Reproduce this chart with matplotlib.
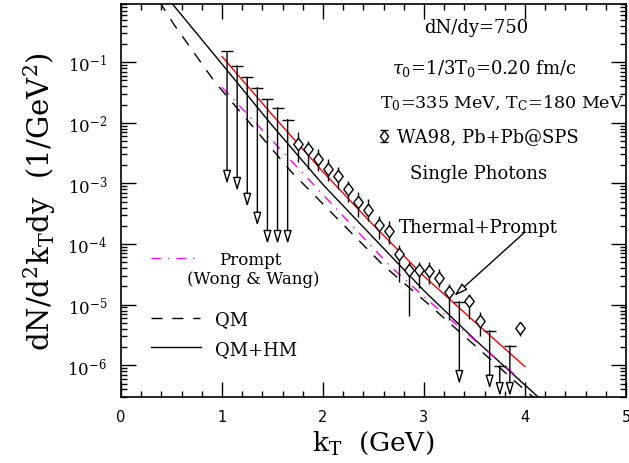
import numpy as np
import matplotlib
matplotlib.use("Agg")
import matplotlib.pyplot as plt

plt.rcParams['font.family'] = ['DejaVu Serif']
plt.rcParams['mathtext.fontset'] = 'dejavuserif'

# WA98 single photon data (diamonds)
kt_data = [1.75, 1.85, 1.95, 2.05, 2.15, 2.25, 2.35, 2.45, 2.55, 2.65,
           2.75, 2.85, 2.95, 3.05, 3.15, 3.25, 3.45, 3.55, 3.95]
y_data = [4.49e-3, 3.71e-3, 2.54e-3, 1.74e-3, 1.32e-3, 8.1e-4, 4.9e-4, 3.7e-4, 2.07e-4, 1.66e-4,
          6.9e-5, 3.8e-5, 3.8e-5, 3.6e-5, 2.8e-5, 1.6e-5, 1.16e-5, 5.4e-6, 4.1e-6]
y_low = [2.26e-3, 1.73e-3, 1.61e-3, 1.10e-3, 8.1e-4, 4.95e-4, 2.80e-4, 2.40e-4, 1.21e-4, 1.00e-4,
         2.37e-5, 6.5e-6, 1.88e-5, 2.19e-5, 1.96e-5, 5.5e-6, 5.7e-6, 3.04e-6, 3.04e-6]
y_high = [7.08e-3, 5.02e-3, 3.71e-3, 2.54e-3, 1.87e-3, 1.10e-3, 7.25e-4, 5.55e-4, 2.91e-4, 2.40e-4,
          9.66e-5, 5.07e-5, 5.07e-5, 5.07e-5, 3.88e-5, 2.19e-5, 1.50e-5, 7.6e-6, 4.8e-6]

# upper limits
kt_ul = [1.05, 1.15, 1.25, 1.35, 1.45, 1.55, 1.65, 3.35, 3.65, 3.75, 3.85]
ul_top = [0.150, 8.7e-2, 5.6e-2, 3.8e-2, 2.45e-2, 1.78e-2, 1.13e-2, 1.12e-5, 3.7e-6, 9.8e-7, 2.1e-6]
ul_tip = [9.8e-4, 7.5e-4, 4.1e-4, 2.0e-4, 1.0e-4, 1.0e-4, 1.0e-4, 4.9e-7, 4.1e-7, 3.1e-7, 3.1e-7]

# model curves
kt_tp = [1.0, 1.5, 2.0, 2.5, 3.0, 3.5, 4.0]
y_tp = [0.124, 1.34e-2, 1.55e-3, 2.04e-4, 2.95e-5, 5.25e-6, 9.5e-7]

kt_qmhm = [0.45, 1.0, 1.5, 2.0, 2.5, 3.0, 3.5, 4.15]
y_qmhm = [1.2, 9.3e-2, 8.9e-3, 9.55e-4, 1.27e-4, 1.70e-5, 2.69e-6, 2.8e-7]

kt_qm = [0.38, 0.52, 0.93, 1.69, 2.6, 3.04, 3.95, 4.1]
y_qm = [1.0, 0.4285, 0.0468, 1.53e-3, 4.41e-5, 1.035e-5, 4.6e-7, 2.8e-7]

kt_prompt = [1.0, 1.8, 2.66, 2.99, 3.95]
y_prompt = [0.0386, 1.48e-3, 4.41e-5, 1.40e-5, 5.94e-7]

fig = plt.figure(figsize=(6.29, 4.64), dpi=100)
ax = fig.add_axes([121/629, 1-398/464, 505/629, 392.7/464])

ax.plot(kt_qmhm, y_qmhm, color='black', lw=1.0)
ax.plot(kt_qm, y_qm, color='black', lw=1.0, dashes=(8, 7))
ax.plot(kt_prompt, y_prompt, color='#ff00ff', lw=1.0, dashes=(7, 5, 1, 5))
ax.plot(kt_tp, y_tp, color='red', lw=1.0)

# data
yd = np.array(y_data)
yerr = [yd - np.array(y_low), np.array(y_high) - yd]
diamond = [(0, 1), (0.75, 0), (0, -1), (-0.75, 0), (0, 1)]
ax.errorbar(kt_data, y_data, yerr=yerr, fmt='none', ecolor='black', elinewidth=1.0, capsize=0)
ax.plot(kt_data, y_data, ls='none', marker=diamond, ms=9, mfc='white', mec='black', mew=1.0)

# upper limits
ax.plot(kt_ul, ul_top, ls='none', marker='_', ms=8, mew=1.0, color='black')
for x, top, tip in zip(kt_ul, ul_top, ul_tip):
    ax.annotate('', xy=(x, tip), xytext=(x, top),
                arrowprops=dict(arrowstyle='-|>,head_length=0.8,head_width=0.24',
                                fc='white', ec='black', lw=1.0, shrinkA=0, shrinkB=0,
                                mutation_scale=10))

ax.set_yscale('log')
ax.set_xlim(0, 5)
ax.set_ylim(3.0e-7, 0.9)

ax.set_xticks([0, 1, 2, 3, 4, 5], labels=['0', '1', '2', '3', '4', '5'],
              fontfamily='DejaVu Sans', fontsize=10.5)
ax.set_xticks(np.arange(0, 5.01, 0.2), minor=True)
ax.tick_params(which='both', direction='in', top=True, right=True, width=1.0)
ax.tick_params(which='major', length=11)
ax.tick_params(which='minor', length=4)
ax.tick_params(axis='x', pad=9)
ax.tick_params(axis='y', labelsize=12, pad=10)
for s in ax.spines.values():
    s.set_linewidth(1.2)

ax.set_xlabel(r'k$_\mathregular{T}$  (GeV)', fontsize=19, labelpad=3)
ax.set_ylabel(r'dN/d$^\mathregular{2}$k$_\mathregular{T}$dy  (1/GeV$^\mathregular{2}$)', fontsize=21, labelpad=7)

# annotations
fs = 13
ax.text(0.703, 0.942, 'dN/dy=750', transform=ax.transAxes, ha='center', va='center', fontsize=fs)
ax.text(0.719, 0.840, r'$\tau_0$=1/3T$_\mathregular{0}$=0.20 fm/c', transform=ax.transAxes,
        ha='center', va='center', fontsize=fs)
ax.text(0.754, 0.751, r'T$_\mathregular{0}$=335 MeV, T$_\mathregular{C}$=180 MeV', transform=ax.transAxes,
        ha='center', va='center', fontsize=12.6)
ax.text(0.5465, 0.665, 'WA98, Pb+Pb@SPS', transform=ax.transAxes, ha='left', va='center', fontsize=fs)
ax.errorbar([0.521], [0.665], yerr=[0.016], transform=ax.transAxes, fmt='none', ecolor='black',
            elinewidth=1.0, capsize=3, capthick=1.0)
ax.plot([0.521], [0.665], transform=ax.transAxes, ls='none', marker=diamond, ms=8,
        mfc='white', mec='black', mew=1.0)
ax.text(0.709, 0.570, 'Single Photons', transform=ax.transAxes, ha='center', va='center', fontsize=fs)
ax.text(0.707, 0.433, 'Thermal+Prompt', transform=ax.transAxes, ha='center', va='center', fontsize=fs)
ax.annotate('', xy=(3.30, 1.4e-5), xytext=(4.0, 1.58e-4),
            arrowprops=dict(arrowstyle='-|>,head_length=0.8,head_width=0.25',
                            fc='white', ec='black', lw=1.0, shrinkA=0, shrinkB=0,
                            mutation_scale=10))

# legend keys
ax.plot([0.0594, 0.156], [0.354, 0.354], transform=ax.transAxes, color='#ff00ff', lw=1.0, dashes=(7, 5, 1, 5))
ax.plot([0.0594, 0.156], [0.201, 0.201], transform=ax.transAxes, color='black', lw=1.0, dashes=(8, 7))
ax.plot([0.0594, 0.158], [0.127, 0.127], transform=ax.transAxes, color='black', lw=1.0)
ax.text(0.2554, 0.349, 'Prompt', transform=ax.transAxes, ha='center', va='center', fontsize=12)
ax.text(0.261, 0.303, '(Wong & Wang)', transform=ax.transAxes, ha='center', va='center', fontsize=12)
ax.text(0.186, 0.199, 'QM', transform=ax.transAxes, ha='left', va='center', fontsize=fs)
ax.text(0.186, 0.122, 'QM+HM', transform=ax.transAxes, ha='left', va='center', fontsize=fs)

fig.savefig('out.png', dpi=100)
